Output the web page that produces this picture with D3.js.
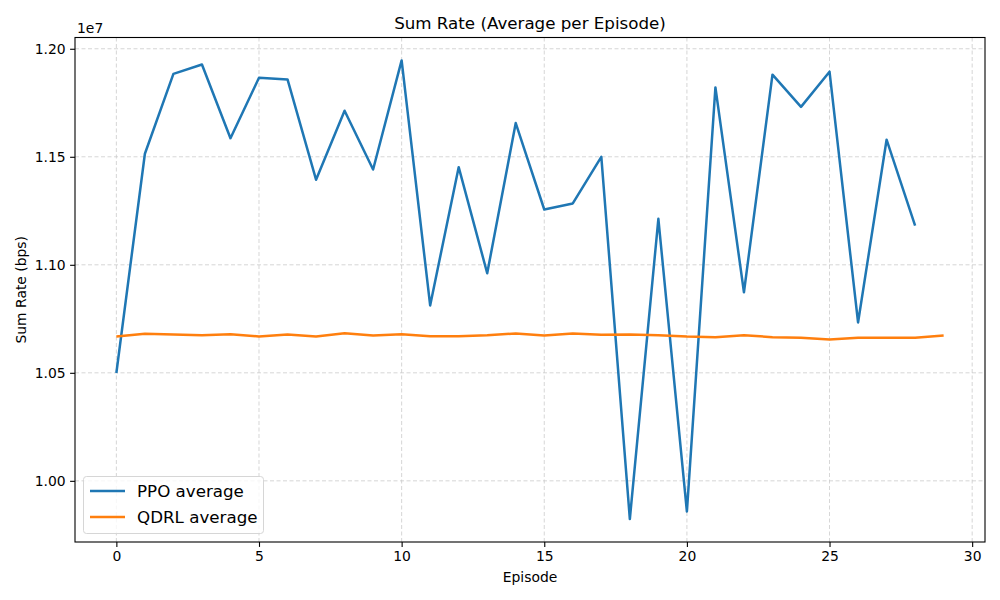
<!DOCTYPE html>
<html><head><meta charset="utf-8">
<script src="https://cdn.jsdelivr.net/npm/d3@7"></script>
<style>body{margin:0;background:#fff;} text{font-family:"DejaVu Sans",sans-serif;}</style>
</head><body>
<svg id="c" width="1000" height="600"></svg>
<script>
const episodesPPO = d3.range(0, 29);
const episodesQDRL = d3.range(0, 30);
const ppoValues = [1.0499,1.1514,1.1884,1.1927,1.1586,1.1866,1.1858,1.1394,1.1713,1.1441,
  1.1946,1.0812,1.1452,1.0961,1.1656,1.1256,1.1284,1.1500,0.9823,1.1213,
  0.9858,1.1821,1.0873,1.1880,1.1731,1.1894,1.0733,1.1579,1.1181];
const qdrlValues = [1.0668,1.0681,1.0677,1.0674,1.0679,1.0668,1.0677,1.0668,1.0683,1.0673,
  1.0679,1.0669,1.0669,1.0674,1.0682,1.0673,1.0682,1.0676,1.0677,1.0674,
  1.0668,1.0665,1.0674,1.0665,1.0662,1.0654,1.0662,1.0662,1.0662,1.0673];
const xTicks = [0,5,10,15,20,25,30];
const yTicks = [1.00,1.05,1.10,1.15,1.20];
const seriesNames = ["PPO average","QDRL average"];
const colors = ["#1f77b4","#ff7f0e"];

const svg = d3.select("#c");
const L=75, R=985, T=37.5, B=542;
const x = d3.scaleLinear().domain([-1.45,30.45]).range([L,R]);
const allV = ppoValues.concat(qdrlValues);
const mn = d3.min(allV), mx = d3.max(allV), pad=(mx-mn)*0.05;
const y = d3.scaleLinear().domain([mn-pad,mx+pad]).range([B,T]);

// grid
const g = svg.append("g");
g.selectAll(".gx").data(xTicks).join("line")
  .attr("x1",d=>x(d)).attr("x2",d=>x(d)).attr("y1",T).attr("y2",B)
  .attr("stroke","#cccccc").attr("stroke-width",0.8).attr("stroke-dasharray","4,2.5");
g.selectAll(".gy").data(yTicks).join("line")
  .attr("y1",d=>y(d)).attr("y2",d=>y(d)).attr("x1",L).attr("x2",R)
  .attr("stroke","#cccccc").attr("stroke-width",0.8).attr("stroke-dasharray","4,2.5");

// lines
const line = d3.line().x(d=>x(d[0])).y(d=>y(d[1]));
svg.append("path").datum(episodesPPO.map((e,i)=>[e,ppoValues[i]]))
  .attr("d",line).attr("fill","none").attr("stroke",colors[0]).attr("stroke-width",2.5).attr("stroke-linejoin","round");
svg.append("path").datum(episodesQDRL.map((e,i)=>[e,qdrlValues[i]]))
  .attr("d",line).attr("fill","none").attr("stroke",colors[1]).attr("stroke-width",2.5).attr("stroke-linejoin","round");

// axes
const xa = svg.append("g").attr("transform",`translate(0,${B})`)
  .call(d3.axisBottom(x).tickValues(xTicks).tickSize(4.9).tickPadding(4.5).tickFormat(d3.format("d")));
const ya = svg.append("g").attr("transform",`translate(${L},0)`)
  .call(d3.axisLeft(y).tickValues(yTicks).tickSize(4.9).tickPadding(4.5).tickFormat(d3.format(".2f")));
[xa,ya].forEach(a=>{
  a.select(".domain").remove();
  a.selectAll("text").attr("font-size","13.9px").attr("fill","#000").style("font-family","DejaVu Sans");
  a.selectAll("line").attr("stroke","#000").attr("stroke-width",1.1);
});
svg.append("rect").attr("x",L).attr("y",T).attr("width",R-L).attr("height",B-T)
  .attr("fill","none").attr("stroke","#000").attr("stroke-width",1.1);

// texts
svg.append("text").attr("x",(L+R)/2).attr("y",29).attr("text-anchor","middle")
  .attr("font-size","16.7px").text("Sum Rate (Average per Episode)");
svg.append("text").attr("x",(L+R)/2).attr("y",582).attr("text-anchor","middle")
  .attr("font-size","13.9px").text("Episode");
svg.append("text").attr("transform",`translate(26,${(T+B)/2}) rotate(-90)`).attr("text-anchor","middle")
  .attr("font-size","13.9px").text("Sum Rate (bps)");
svg.append("text").attr("x",L+2).attr("y",33).attr("font-size","13.9px").text("1e7");

// legend
const lg = svg.append("g");
lg.append("rect").attr("x",83.5).attr("y",476.5).attr("width",180).attr("height",57).attr("rx",3)
  .attr("fill","#fff").attr("fill-opacity",0.8).attr("stroke","#d6d6d6").attr("stroke-width",1);
seriesNames.forEach((n,i)=>{
  const yy = 491 + i*26;
  lg.append("line").attr("x1",90).attr("x2",125).attr("y1",yy).attr("y2",yy)
    .attr("stroke",colors[i]).attr("stroke-width",2.5);
  lg.append("text").attr("x",137).attr("y",yy+6).attr("font-size","16.7px").text(n);
});
</script>
</body></html>
